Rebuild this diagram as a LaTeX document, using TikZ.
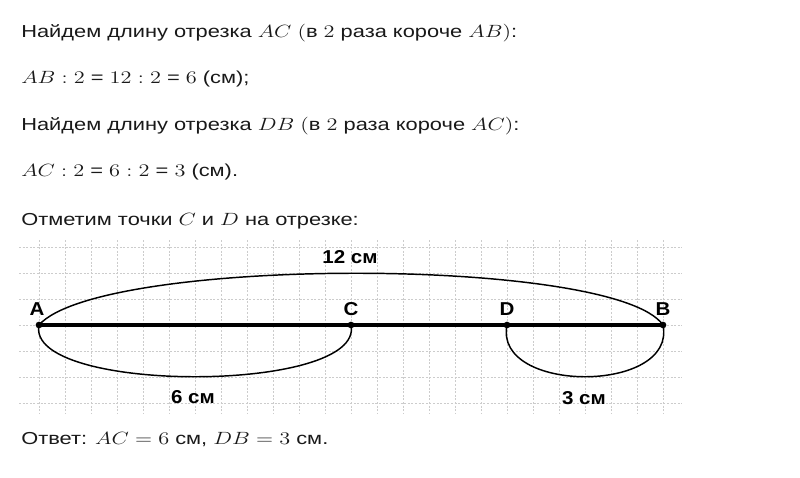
\documentclass[tikz,border=0pt]{standalone}
\usepackage{fix-cm}
\usepackage[no-math]{fontspec}
\usepackage{graphicx}
\setmainfont{Liberation Sans}
\usetikzlibrary{positioning}
\newcommand{\widetext}[1]{\scalebox{1.26}[1]{#1}}
\newcommand{\widelabel}[1]{\scalebox{1.1}[1]{#1}}
\newcommand{\mathpart}[1]{{\fontsize{13.3}{15}\selectfont$#1$}}
\tikzset{
    txt/.style={anchor=base west, inner sep=0pt, text=black!90, font=\fontsize{13}{15}\selectfont},
    ptlabel/.style={inner sep=0pt, font=\fontsize{14}{16}\selectfont\bfseries},
    lenlabel/.style={anchor=base, inner sep=0pt, font=\fontsize{14}{16}\selectfont\bfseries},
    dot/.style={circle, fill=black, inner sep=0pt, minimum size=5pt},
    gridline/.style={black!20, line width=0.7pt, dash pattern=on 1.5pt off 1.2pt},
    segline/.style={line width=3pt},
    lenarc/.style={line width=1.1pt}
}

\begin{document}
\begin{tikzpicture}[x=0.75pt, y=-0.75pt]
    \fill[white] (0,0) rectangle (800,478);
    \useasboundingbox (0,0) rectangle (800,478);

    % text above the drawing
    \node(line1)[txt] at (21,37.3) {\widetext{Найдем длину отрезка \mathpart{AC} \mathpart{(}в \mathpart{2} раза короче \mathpart{AB)}:}};
    \node(line2)[txt] at (21,84) {\widetext{\mathpart{AB:2} = \mathpart{12:2} = \mathpart{6} (см);}};
    \node(line3)[txt] at (21,130.5) {\widetext{Найдем длину отрезка \mathpart{DB} \mathpart{(}в \mathpart{2} раза короче \mathpart{AC)}:}};
    \node(line4)[txt] at (21,176.5) {\widetext{\mathpart{AC:2} = \mathpart{6:2} = \mathpart{3} (см).}};
    \node(line5)[txt] at (21,225) {\widetext{Отметим точки \mathpart{C} и \mathpart{D} на отрезке:}};

    % squared paper
    \foreach \i in {0,...,24}{
        \draw[gridline] (39+26*\i,240) -- (39+26*\i,413);
    };
    \foreach \j in {-3,...,3}{
        \draw[gridline] (19,325+26*\j) -- (682,325+26*\j);
    };

    % the segment and its points
    \node(A)[dot] at (39,325) {};
    \node(C)[dot] at (351,325) {};
    \node(D)[dot] at (507,325) {};
    \node(B)[dot] at (663,325) {};
    \draw[segline] (A.center) -- (B.center);

    \node(labA)[ptlabel, above=7pt of A.center, xshift=-1.5pt] {\widelabel{A}};
    \node(labC)[ptlabel, above=7pt of C.center] {\widelabel{C}};
    \node(labD)[ptlabel, above=7pt of D.center] {\widelabel{D}};
    \node(labB)[ptlabel, above=7pt of B.center] {\widelabel{B}};

    % lengths
    \draw[lenarc] (A.center) .. controls +(61,-69) and +(-48,-69) .. (B.center);
    \draw[lenarc] (A.center) .. controls +(-14,69) and +(14,69) .. (C.center);
    \draw[lenarc] (D.center) .. controls +(-14,69) and +(14,69) .. (B.center);

    \node(lenAB)[lenlabel] at (350,263) {\widelabel{12 см}};
    \node(lenAC)[lenlabel] at (193,403) {\widelabel{6 см}};
    \node(lenDB)[lenlabel] at (584,404) {\widelabel{3 см}};

    \node(answer)[txt] at (21,444) {\widetext{Ответ: \mathpart{AC=6} см, \mathpart{DB=3} см.}};
\end{tikzpicture}
\end{document}
